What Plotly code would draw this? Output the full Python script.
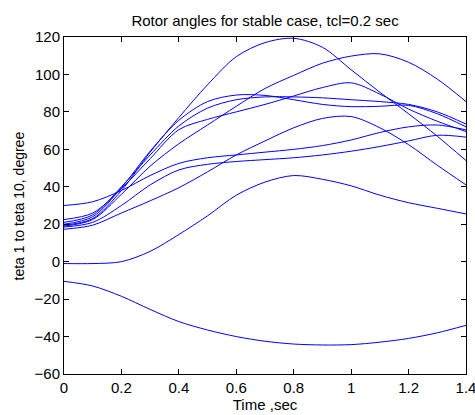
import plotly.graph_objects as go

time_s = [0.0, 0.1, 0.2, 0.3, 0.4, 0.5, 0.6, 0.7, 0.8, 0.9, 1.0, 1.1, 1.2, 1.3, 1.4]

teta_1 = [19.5, 23, 38, 58.5, 77, 94.5, 109.5, 117, 119.3, 114.5, 102.5, 90.5, 79, 67, 54]
teta_2 = [19, 22.5, 36, 51, 63, 73, 83, 92.5, 99.5, 106, 109.8, 111, 106.5, 97.5, 85.5]
teta_3 = [22.5, 26, 39, 55, 70.5, 76, 80, 84, 88.5, 93, 95.5, 89.5, 81.5, 75, 69.5]
teta_4 = [20, 24, 39.5, 59, 75.5, 85.5, 89, 88.8, 86.5, 84, 82.8, 83, 83.5, 79, 72]
teta_5 = [21, 25, 40, 57, 72.5, 82, 86.5, 88, 88, 87.5, 86.5, 85.5, 84, 80, 73.5]
teta_6 = [30, 32, 38, 46, 52.5, 55.5, 57, 58.5, 60, 62, 65, 69, 72, 73, 70.4]
teta_7 = [18.5, 21, 30, 41, 49, 52, 53.5, 54.5, 55.5, 57, 59, 61.5, 64.5, 67.5, 66.5]
teta_8 = [17.3, 19.5, 26, 32.5, 39.5, 48, 57, 64.5, 71.5, 76.5, 77.5, 71.5, 62.5, 51.5, 41]
teta_9 = [-1, -1, 0, 5.5, 14.5, 24.5, 35.5, 42.5, 46, 44, 40.5, 35.5, 31.5, 28.5, 25.5]
teta_10 = [-10.5, -13, -18.5, -25.5, -32, -36.5, -40, -42.5, -44, -44.5, -44.3, -43, -41, -38, -34]

series = [teta_1, teta_2, teta_3, teta_4, teta_5, teta_6, teta_7, teta_8, teta_9, teta_10]

x_ticks = [0, 0.2, 0.4, 0.6, 0.8, 1.0, 1.2, 1.4]
x_tick_text = ["0", "0.2", "0.4", "0.6", "0.8", "1", "1.2", "1.4"]
y_ticks = [-60, -40, -20, 0, 20, 40, 60, 80, 100, 120]

fig = go.Figure()
for i, s in enumerate(series):
    fig.add_trace(go.Scatter(
        x=time_s, y=s, mode="lines", name=f"teta {i+1}",
        line=dict(color="rgb(0,0,255)", width=1, shape="spline", smoothing=0.9),
        showlegend=False,
    ))

font = "Liberation Sans, Arial, sans-serif"
axis_common = dict(
    showline=True, linecolor="black", linewidth=1, mirror="ticks",
    ticks="inside", ticklen=5, tickcolor="black", showgrid=False, zeroline=False,
    automargin=False, ticklabeloverflow="allow",
    tickfont=dict(family=font, size=15, color="black"),
)

fig.update_layout(
    width=475, height=415, autosize=False,
    margin=dict(l=64, r=9, t=37, b=41),
    paper_bgcolor="white", plot_bgcolor="white",
    title=dict(text="Rotor angles for stable case, tcl=0.2 sec", x=0.558, xanchor="center",
               y=0.95, yanchor="middle", font=dict(family=font, size=15, color="black")),
    xaxis=dict(range=[0, 1.4], tickvals=x_ticks, ticktext=x_tick_text,
               title=dict(text="Time ,sec", standoff=2, font=dict(family=font, size=15, color="black")),
               **axis_common),
    yaxis=dict(range=[-60, 120], tickvals=y_ticks, **axis_common),
    annotations=[dict(text="teta 1 to teta 10, degree", textangle=-90, xref="paper", yref="paper",
                      x=-0.112, y=0.5, xanchor="center", yanchor="middle", showarrow=False,
                      font=dict(family=font, size=14, color="black"))],
)

fig.write_html("out.html", config={"displayModeBar": False},
               post_script="document.body.style.margin='0';document.body.style.overflow='hidden';")
